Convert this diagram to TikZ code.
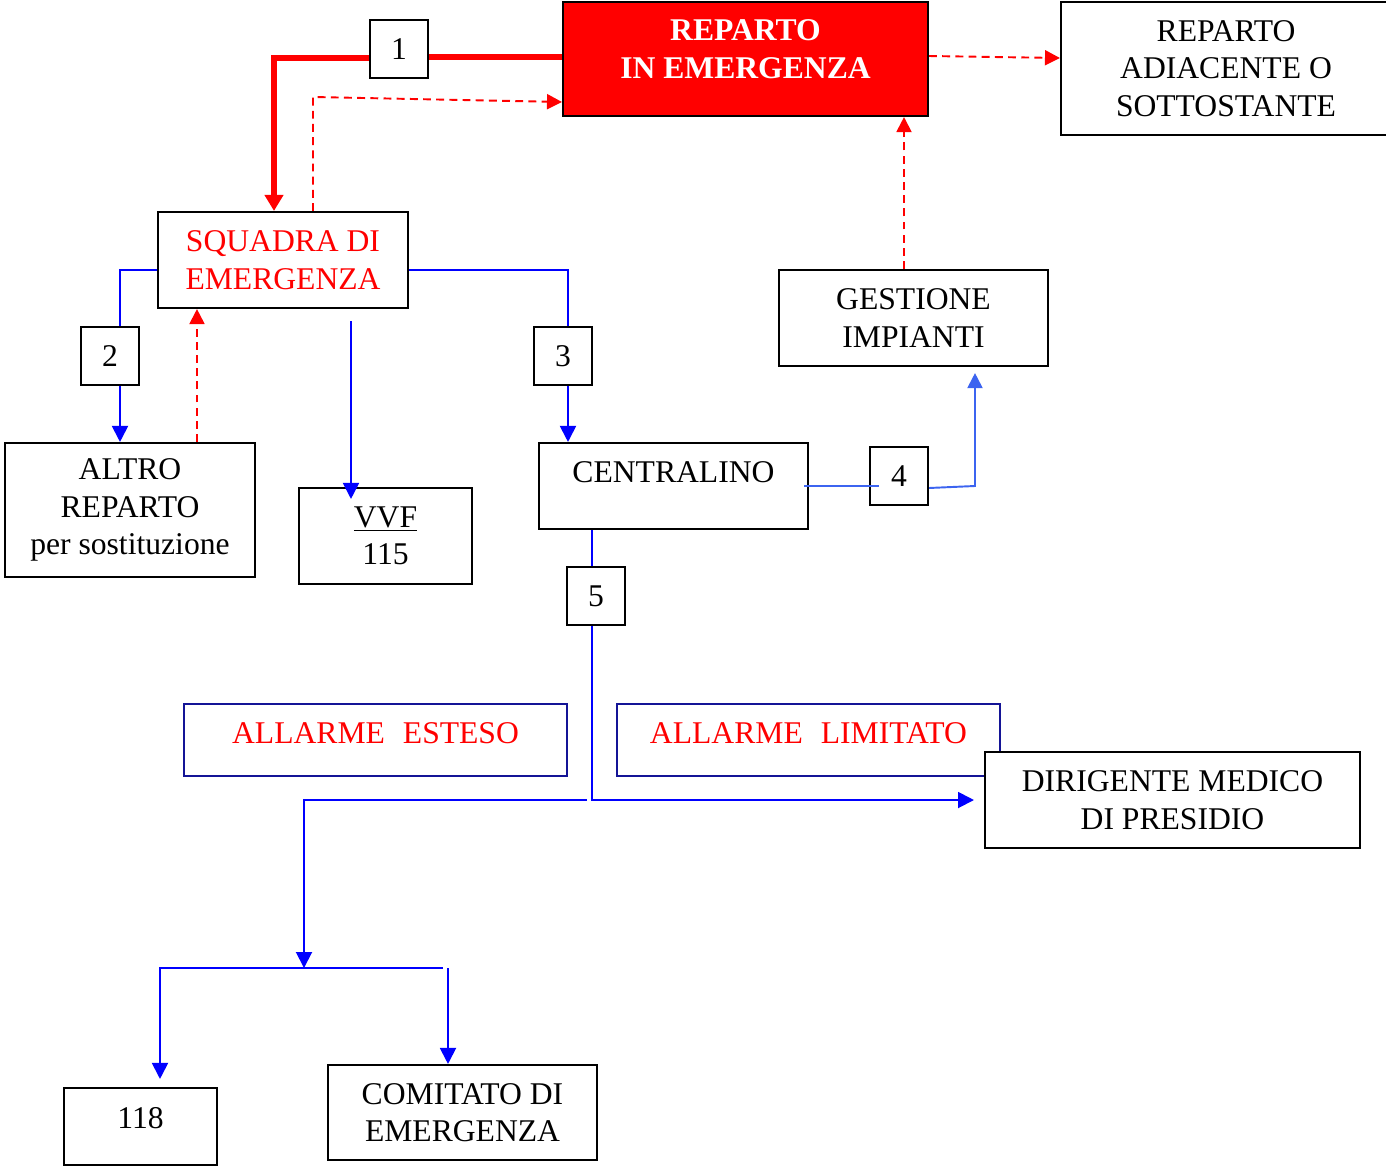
\documentclass[tikz,border=0pt]{standalone}
\usepackage{fontspec}
\setmainfont{Liberation Serif}
\usepackage{tikz}
\usetikzlibrary{arrows.meta,calc}
\definecolor{navy}{RGB}{20,20,150}
\definecolor{lblue}{RGB}{60,100,240}
\tikzset{ebox/.style={rectangle, draw=black, line width=1.2pt, fill=white, align=center, inner sep=1pt, font=\fontsize{18}{21.3}\selectfont}}
\tikzset{nbox/.style={ebox, minimum width=1.16cm, minimum height=1.16cm}}
\tikzset{abox/.style={ebox, draw=navy, text=red, minimum width=7.66cm, minimum height=1.44cm, text depth=0.26cm}}
\tikzset{bline/.style={draw=blue, line width=1.1pt}}
\tikzset{barrow/.style={bline, -{Triangle[length=0.32cm,width=0.32cm]}}}
\tikzset{lline/.style={draw=lblue, line width=1.1pt}}
\tikzset{larrow/.style={lline, -{Triangle[length=0.3cm,width=0.3cm]}}}
\tikzset{rthick/.style={draw=red, line width=3.2pt}}
\tikzset{rdash/.style={draw=red, line width=1.1pt, dash pattern=on 4.5pt off 3pt, -{Triangle[length=0.3cm,width=0.3cm]}}}

\begin{document}
\begin{tikzpicture}[x=0.02cm, y=-0.02cm]
    \useasboundingbox (0,0) rectangle (1386,1167);

    \node[ebox, fill=red, text=white, font=\fontsize{18}{21.3}\selectfont\bfseries, minimum width=7.3cm, minimum height=2.28cm, text depth=0.4cm] (rem) at (745.5,59) {REPARTO\\IN EMERGENZA};
    \node[ebox, minimum width=6.6cm, minimum height=2.66cm] (adj) at (1226,68.5) {REPARTO\\ADIACENTE O\\SOTTOSTANTE};
    \node[ebox, text=red, minimum width=5cm, minimum height=1.92cm] (sq) at (283,260) {SQUADRA DI\\EMERGENZA};
    \node[ebox, minimum width=5.38cm, minimum height=1.92cm] (gest) at (913.5,318) {GESTIONE\\IMPIANTI};
    \node[ebox, minimum width=5cm, minimum height=2.68cm] (altro) at (130,510) {ALTRO\\REPARTO\\per sostituzione};
    \node[ebox, minimum width=3.46cm, minimum height=1.92cm] (vvf) at (385.5,536) {\underline{VVF}\\115};
    \node[ebox, minimum width=5.38cm, minimum height=1.72cm, text depth=0.56cm] (cen) at (673.5,486) {CENTRALINO};

    \node[nbox] (b1) at (399,49) {1};
    \node[nbox] (b2) at (110,356) {2};
    \node[nbox] (b3) at (563,356) {3};
    \node[nbox] (b4) at (899,476) {4};
    \node[nbox] (b5) at (596,596) {5};

    \node[abox] (aes) at (375.5,740) {ALLARME\hspace{0.36cm}ESTESO};
    \node[abox] (alim) at (808.5,740) {ALLARME\hspace{0.36cm}LIMITATO};
    \node[ebox, minimum width=7.5cm, minimum height=1.92cm] (dir) at (1172.5,800) {DIRIGENTE MEDICO\\DI PRESIDIO};
    \node[ebox, minimum width=3.06cm, minimum height=1.54cm, text depth=0.34cm] (c118) at (140.5,1126.5) {118};
    \node[ebox, minimum width=5.38cm, minimum height=1.9cm] (com) at (462.5,1112.5) {COMITATO DI\\EMERGENZA};

    \coordinate (split) at (304,968);

    % red calls
    \draw[rthick] ([yshift=-0.16cm]b1.east) -- ([yshift=-0.16cm]b1.east -| rem.west);
    \draw[rthick, -{Triangle[length=0.32cm,width=0.36cm]}] ([yshift=-0.18cm]b1.west) -| ([xshift=-0.18cm]sq.north);
    \draw[rdash] ([xshift=0.6cm]sq.north) -- ([xshift=0.6cm]sq.north |- 0,97) -- ([yshift=-0.86cm]rem.west);
    \draw[rdash] ([yshift=0.06cm]rem.east) -- ([yshift=0.21cm]adj.west);
    \draw[rdash] ([xshift=-0.19cm]gest.north) -- ([xshift=-0.19cm]gest.north |- rem.south);
    \draw[rdash] ([xshift=1.34cm]altro.north) -- ([xshift=1.34cm]altro.north |- sq.south);

    % blue calls
    \draw[bline] ([yshift=-0.2cm]sq.west) -| ([xshift=0.2cm]b2.north);
    \draw[barrow] ([xshift=0.2cm]b2.south) -- ([xshift=0.2cm]b2.south |- altro.north);
    \draw[bline] ([yshift=-0.2cm]sq.east) -| ([xshift=0.1cm]b3.north);
    \draw[barrow] ([xshift=0.1cm]b3.south) -- ([xshift=0.1cm]b3.south |- cen.north);
    \draw[barrow] ([xshift=1.36cm,yshift=-0.24cm]sq.south) -- ([xshift=1.36cm,yshift=-0.24cm]sq.south |- vvf.north);

    \draw[lline] ([xshift=-0.1cm]cen.east) -- ([xshift=0.2cm]b4.west |- cen.east);
    \draw[larrow] ([yshift=-0.24cm]b4.east) -- ([xshift=1.23cm]gest.south |- 0,486) -- ([xshift=1.23cm,yshift=-0.12cm]gest.south);

    \draw[bline] ([xshift=-0.08cm]b5.north |- cen.south) -- ([xshift=-0.08cm]b5.north);
    \draw[barrow] ([xshift=-0.08cm]b5.south) |- ([xshift=-0.2cm]dir.west);
    \draw[barrow] ([xshift=-0.18cm]b5.south |- dir.west) -| (split);
    \draw[barrow] (split) -| ([xshift=0.39cm,yshift=0.16cm]c118.north);
    \draw[bline] (split) -- ([xshift=-0.39cm]com.north |- split);
    \draw[barrow] ([xshift=-0.29cm]com.north |- split) -- ([xshift=-0.29cm]com.north);
\end{tikzpicture}
\end{document}
